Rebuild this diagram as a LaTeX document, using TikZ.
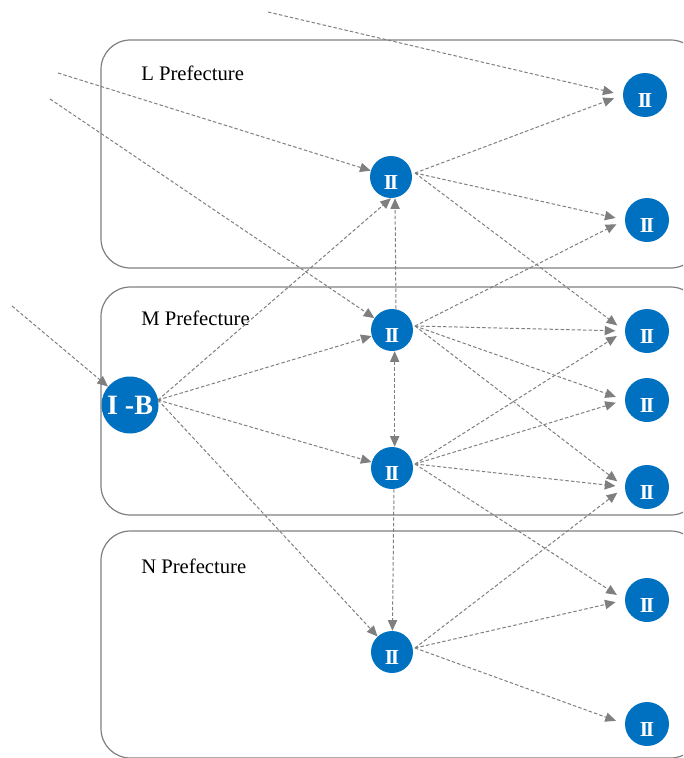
\documentclass[tikz,border=0pt]{standalone}
\usepackage{fontspec}
\setmainfont{Liberation Serif}
\usetikzlibrary{arrows.meta}
\definecolor{nodeblue}{HTML}{0070C0}
\definecolor{linegray}{HTML}{7F7F7F}
\begin{document}
\begin{tikzpicture}[x=0.75pt,y=-0.75pt,
  region/.style={draw=linegray, line width=0.9pt, rounded corners=22pt},
  regionlabel/.style={anchor=west, font=\fontsize{15.5}{18}\selectfont, inner sep=0pt},
  % numeral sits a little below the circle centre
  numeral/.style={text=white, font=\fontsize{16}{18}\selectfont\bfseries,
    inner sep=0pt, text height=18pt, text depth=0pt},
  hub/.style={circle, fill=nodeblue, minimum size=31.5pt, inner sep=0pt, numeral},
  leaf/.style={circle, fill=nodeblue, minimum size=33pt, inner sep=0pt, numeral},
  source/.style={circle, fill=nodeblue, minimum size=42.75pt, inner sep=0pt, text=white,
    font=\fontsize{21}{24}\selectfont\bfseries},
  flow/.style={draw=linegray, line width=0.75pt, dash pattern=on 2.6pt off 1.6pt,
    -{Triangle[length=8pt,width=7pt]}},
  toleaf/.style={flow, shorten >=7pt}
]
\useasboundingbox (0,0) rectangle (683,758);
\clip (0,0) rectangle (683,758);

% prefecture regions
\draw[region] (101,40) rectangle (700,268);
\draw[region] (101,287) rectangle (700,515);
\draw[region] (101,531) rectangle (700,758);
\node[regionlabel] (lab) at (141,73) {L Prefecture};
\node[regionlabel] (mab) at (141,318) {M Prefecture};
\node[regionlabel] (nab) at (141,566) {N Prefecture};

% nodes
\newcommand{\rtwo}{I\kern-1.6pt I}
\node[source] (ib) at (130,405) {I -B};
\node[hub] (lm) at (391,177) {\rtwo};
\node[hub] (ma) at (392,330) {\rtwo};
\node[hub] (mb) at (392,468) {\rtwo};
\node[hub] (nm) at (392,652) {\rtwo};
\node[leaf] (r1) at (645,95) {\rtwo};
\node[leaf] (r2) at (647,220) {\rtwo};
\node[leaf] (r3) at (647,331) {\rtwo};
\node[leaf] (r4) at (647,400) {\rtwo};
\node[leaf] (r5) at (647,487) {\rtwo};
\node[leaf] (r6) at (647,600) {\rtwo};
\node[leaf] (r7) at (647,724) {\rtwo};

% loose ends of incoming flows
\coordinate (e1) at (268,12);
\coordinate (e2) at (58,73);
\coordinate (e3) at (50,99);
\coordinate (e4) at (12,306);

% outgoing ports
\coordinate (ibo) at (158,400);
\coordinate (lmo) at (415,173);
\coordinate (mao) at (415,326);
\coordinate (mbo) at (415,464);
\coordinate (nmo) at (415,648);

% incoming flows
\draw[toleaf] (e1) -- (r1.west);
\draw[flow] (e2) -- (lm);
\draw[flow] (e3) -- (ma);
\draw[flow] (e4) -- (ib);

% from I-B
\draw[flow] (ibo) -- (lm.south);
\draw[flow] (ibo) -- (ma);
\draw[flow] (ibo) -- (mb);
\draw[flow] (ibo) -- (nm);

% vertical links
\draw[flow] ([xshift=3pt]ma.north) -- ([xshift=3pt]lm.south);
\draw[flow, {Triangle[length=8pt,width=7pt]}-{Triangle[length=8pt,width=7pt]}]
  ([xshift=2pt]ma.south) -- ([xshift=2pt]mb.north);
\draw[flow] ([xshift=1.5pt]mb.south) -- ([xshift=0.3pt]nm.north);

% from L hub
\draw[toleaf] (lmo) -- (r1.west);
\draw[toleaf] (lmo) -- (r2.west);
\draw[toleaf] (lmo) -- (r3.west);

% from upper M hub
\draw[toleaf] (mao) -- (r2.west);
\draw[toleaf] (mao) -- (r3.west);
\draw[toleaf] (mao) -- (r4.west);
\draw[toleaf] (mao) -- (r5.west);

% from lower M hub
\draw[toleaf] (mbo) -- (r3.west);
\draw[toleaf] (mbo) -- (r4.west);
\draw[toleaf] (mbo) -- (r5.west);
\draw[toleaf] (mbo) -- (r6.west);

% from N hub
\draw[toleaf] (nmo) -- (r5.west);
\draw[toleaf] (nmo) -- (r6.west);
\draw[toleaf] (nmo) -- (r7.west);
\end{tikzpicture}
\end{document}
